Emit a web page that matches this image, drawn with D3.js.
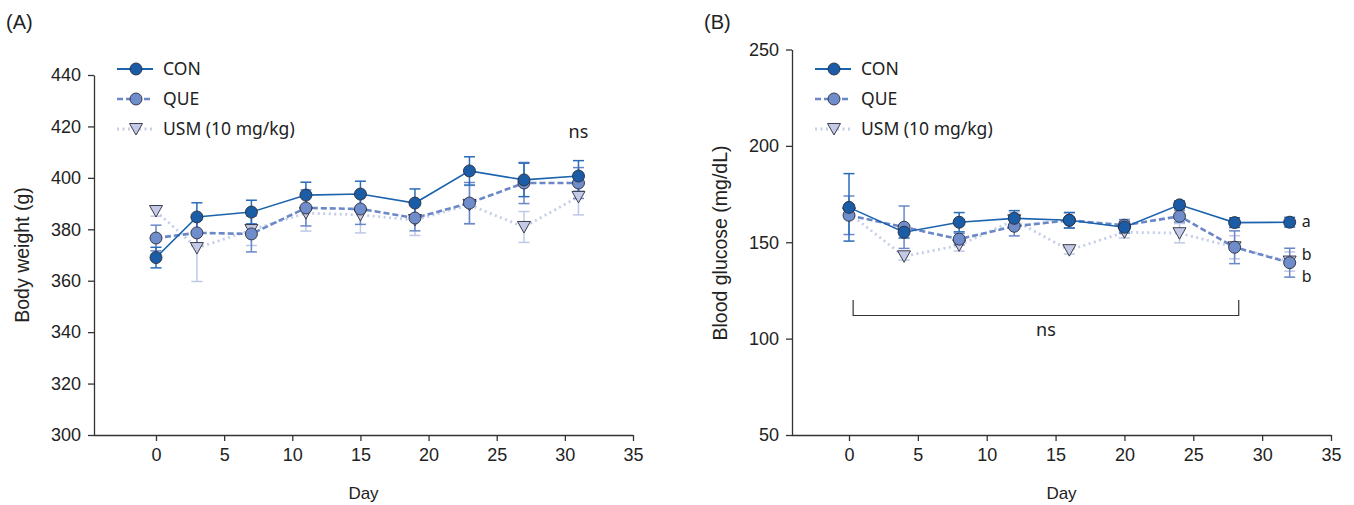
<html>
<head>
<script src="https://d3js.org/d3.v7.min.js"></script>
<style>
  body { margin: 0; background: #fff; }
</style>
</head>
<body>
<svg id="chart" width="1354" height="505"></svg>
<script>
// ---- data: panel A, body weight (g)
var daysA = [0, 3, 7, 11, 15, 19, 23, 27, 31];
var conA  = [369, 384.8, 386.7, 393.3, 393.7, 390.2, 402.7, 399.2, 400.7];
var conAe = [4, 5.5, 4.6, 5, 5, 5.5, 5.5, 6.5, 6];
var queA  = [376.6, 378.6, 378.2, 388.3, 387.9, 384.4, 390.2, 398, 398];
var queAe = [5, 5, 7, 7, 6, 5, 8, 8, 6];
var usmA  = [387.1, 372.7, 379.7, 386.3, 385.6, 383.6, 389.5, 380.9, 392.6];
var usmAe = [2, 13, 6, 7, 7, 6, 7.5, 6, 7];

// ---- data: panel B, blood glucose (mg/dL)
var daysB = [0, 4, 8, 12, 16, 20, 24, 28, 32];
var conB  = [168.1, 155.2, 160.4, 162.4, 161.4, 157.8, 169.4, 160.2, 160.4];
var conBe = [17.5, 3, 5, 4, 4, 3, 2, 2.5, 2.5];
var queB  = [164, 157.8, 151.6, 158.3, 161.4, 158.8, 163.5, 147.4, 139.4];
var queBe = [10, 11, 3, 5, 4, 3, 3, 8.5, 7.5];
var usmB  = [165, 142.7, 148.4, 161.4, 145.9, 155.2, 154.7, 147.4, 140];
var usmBe = [3, 2, 3, 4, 2, 3, 5, 6, 5];

var ticksYA = [300, 320, 340, 360, 380, 400, 420, 440];
var ticksYB = [50, 100, 150, 200, 250];
var ticksX  = [0, 5, 10, 15, 20, 25, 30, 35];
var names = ["CON", "QUE", "USM (10 mg/kg)"];

var styles = [
  {line: "#1c63ad", fill: "#1a5ca6", err: "#2a6cb8", w: 1.6, dash: null, shape: "circle"},
  {line: "#6a87c8", fill: "#6f8dcb", err: "#6a87c8", w: 2.6, dash: "6,3", shape: "circle"},
  {line: "#c5cde9", fill: "#c3c9e6", err: "#bfc8e6", w: 2.8, dash: "2,3.5", shape: "tri"}
];

var ARIAL = "'Liberation Sans', Arial, Helvetica, sans-serif";
var NOTO = "'Noto Sans', sans-serif";

var svg = d3.select("#chart");

function txt(g, font, size) {
  return g.append("text").style("font-family", font).style("font-size", size + "px").attr("fill", "#222");
}

function marker(g, shape, fill, cx, cy) {
  if (shape === "circle") {
    g.append("circle").attr("cx", cx).attr("cy", cy).attr("r", 6)
      .attr("fill", fill).attr("stroke", "#2b2d3a").attr("stroke-width", 0.9);
  } else {
    g.append("path")
      .attr("d", "M" + (cx - 6.5) + "," + (cy - 5.5) + "L" + (cx + 6.5) + "," + (cy - 5.5) + "L" + cx + "," + (cy + 6) + "Z")
      .attr("fill", fill).attr("stroke", "#2b2d3a").attr("stroke-width", 0.9);
  }
}

function styleAxis(a) {
  a.selectAll("line, .domain").attr("stroke", "#333").attr("stroke-width", 1.3);
  a.selectAll("text").style("font-family", ARIAL).style("font-size", "18px").attr("fill", "#222");
}

function panel(opt) {
  var x = d3.scaleLinear().domain([0, 35]).range(opt.xr);
  var y = d3.scaleLinear().domain(opt.yd).range([435, opt.yTop]);
  var g = svg.append("g");

  g.append("g").attr("transform", "translate(0,435)")
    .call(d3.axisBottom(x).tickValues(ticksX).tickSize(6).tickPadding(7).tickSizeOuter(0))
    .call(function (a) {
      a.select(".domain").attr("d", "M" + opt.ax + ",0.5H" + x(35));
      styleAxis(a);
    });
  g.append("g").attr("transform", "translate(" + opt.ax + ",0)")
    .call(d3.axisLeft(y).tickValues(opt.ty).tickSize(6).tickPadding(7).tickSizeOuter(0))
    .call(styleAxis);

  txt(g, ARIAL, 17).attr("x", (opt.ax + x(35)) / 2).attr("y", 499)
    .attr("text-anchor", "middle").text("Day");
  txt(g, ARIAL, 19.5).attr("transform", "translate(" + opt.tx + "," + opt.tyc + ") rotate(-90)")
    .attr("text-anchor", "middle").text(opt.title);
  txt(g, ARIAL, 20).attr("x", opt.lx).attr("y", 29).text(opt.letter);

  // lines first (USM bottom)
  [2, 1, 0].forEach(function (k) {
    var s = styles[k], vals = opt.series[k];
    var line = d3.line().x(function (d, i) { return x(opt.days[i]); }).y(function (d) { return y(d); });
    g.append("path").datum(vals).attr("d", line).attr("fill", "none")
      .attr("stroke", s.line).attr("stroke-width", s.w)
      .attr("stroke-dasharray", s.dash);
  });
  // error bars
  [2, 1, 0].forEach(function (k) {
    var s = styles[k], vals = opt.series[k], errs = opt.errs[k];
    vals.forEach(function (v, i) {
      var cx = x(opt.days[i]), lo = y(v - errs[i]), hi = y(v + errs[i]);
      g.append("line").attr("x1", cx).attr("x2", cx).attr("y1", lo).attr("y2", hi)
        .attr("stroke", s.err).attr("stroke-width", 1.5);
      [lo, hi].forEach(function (yy) {
        g.append("line").attr("x1", cx - 5.5).attr("x2", cx + 5.5).attr("y1", yy).attr("y2", yy)
          .attr("stroke", s.err).attr("stroke-width", 1.5);
      });
    });
  });
  // markers
  [2, 1, 0].forEach(function (k) {
    var s = styles[k];
    opt.series[k].forEach(function (v, i) { marker(g, s.shape, s.fill, x(opt.days[i]), y(v)); });
  });

  // legend
  names.forEach(function (n, k) {
    var s = styles[k], ly = 69 + k * 30;
    g.append("line").attr("x1", opt.legX).attr("x2", opt.legX + 36).attr("y1", ly).attr("y2", ly)
      .attr("stroke", s.line).attr("stroke-width", k === 0 ? 2 : s.w).attr("stroke-dasharray", s.dash);
    marker(g, s.shape, s.fill, opt.legX + 19, ly);
    txt(g, NOTO, 17.5).attr("x", opt.legX + 46).attr("y", ly + 6).text(n);
  });
  return {g: g, x: x, y: y};
}

var A = panel({xr: [156, 633], ax: 94, yd: [300, 440], yTop: 75, ty: ticksYA,
  days: daysA, series: [conA, queA, usmA], errs: [conAe, queAe, usmAe],
  title: "Body weight (g)", tx: 29, tyc: 255, letter: "(A)", lx: 6, legX: 117});
txt(A.g, NOTO, 18).attr("x", A.x(31)).attr("y", A.y(415.5))
  .attr("text-anchor", "middle").text("ns");

var B = panel({xr: [849, 1331], ax: 792, yd: [50, 250], yTop: 49.5, ty: ticksYB,
  days: daysB, series: [conB, queB, usmB], errs: [conBe, queBe, usmBe],
  title: "Blood glucose (mg/dL)", tx: 727, tyc: 243, letter: "(B)", lx: 704, legX: 815});
var bx0 = B.x(0.3), bx1 = B.x(28.3), by0 = B.y(120), by1 = B.y(112);
B.g.append("path").attr("d", "M" + bx0 + "," + by0 + "V" + by1 + "H" + bx1 + "V" + by0)
  .attr("fill", "none").attr("stroke", "#333").attr("stroke-width", 1.2);
txt(B.g, NOTO, 18).attr("x", (bx0 + bx1) / 2).attr("y", B.y(101.5))
  .attr("text-anchor", "middle").text("ns");
[["a", 160.4], ["b", 143.5], ["b", 132]].forEach(function (t) {
  txt(B.g, NOTO, 16).attr("x", B.x(32) + 12).attr("y", B.y(t[1]) + 5).text(t[0]);
});
</script>
</body>
</html>
